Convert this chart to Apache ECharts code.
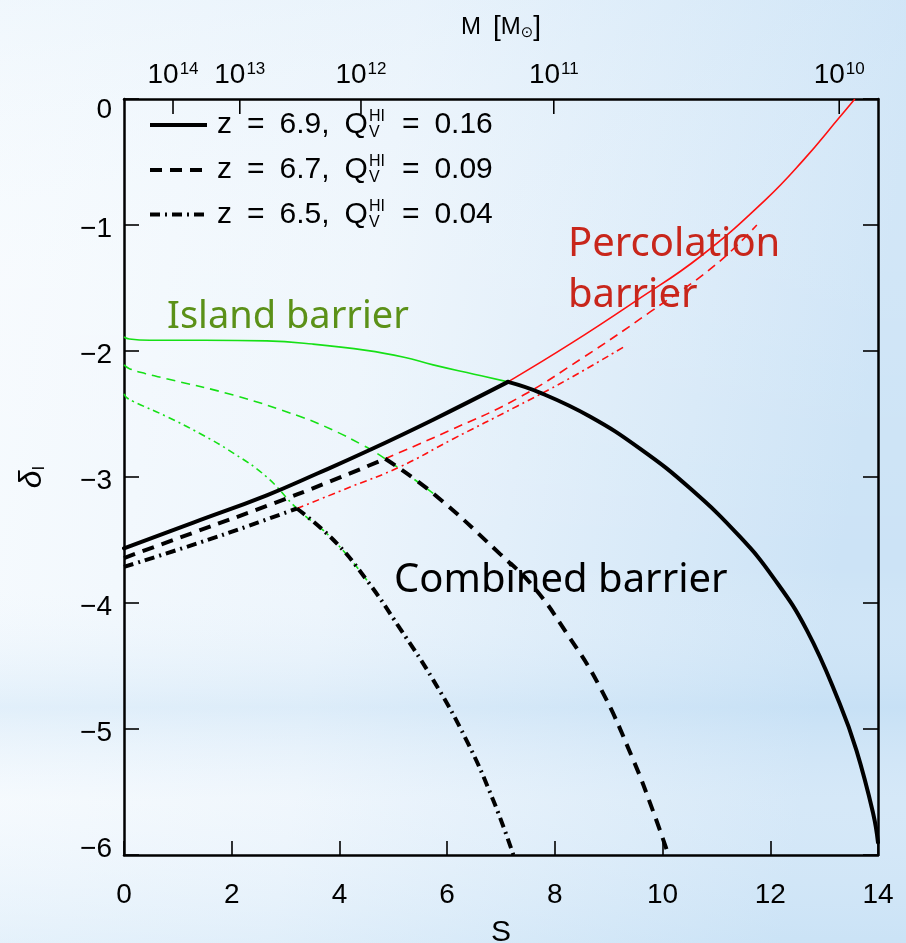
<!DOCTYPE html>
<html><head><meta charset="utf-8">
<script src="https://cdn.jsdelivr.net/npm/echarts@6/dist/echarts.min.js"></script>
<style>html,body{margin:0;padding:0;width:906px;height:943px;overflow:hidden}#c{width:906px;height:943px}</style>
</head><body><div id="c"></div><script>
// ---------------- data ----------------
const sTicks = [0, 2, 4, 6, 8, 10, 12, 14];
const deltaTicks = [0, -1, -2, -3, -4, -5, -6];
const massTickS = [0.91, 2.15, 4.40, 7.98, 13.28];
const massExp = ['14', '13', '12', '11', '10'];
const legendZ = ['6.9', '6.7', '6.5'];
const legendQ = ['0.16', '0.09', '0.04'];
const annotIsland = 'Island barrier';
const annotPerc = ['Percolation', 'barrier'];
const annotComb = 'Combined barrier';

// percolation barrier [S, delta]
const perc69 = [[0,-3.566],[1.3,-3.36],[2.65,-3.145],[3.6,-2.97],[4.51,-2.796],[5.74,-2.545],[7.13,-2.245],[8.3,-1.94],[9.52,-1.598],[10.69,-1.254],[11.9,-0.804],[12.61,-0.487],[13.29,-0.143],[13.57,0]];
const perc67 = [[0,-3.643],[1.3,-3.44],[2.65,-3.23],[3.8,-3.04],[4.85,-2.855],[6.05,-2.63],[7.29,-2.38],[8.53,-2.05],[9.77,-1.69],[11.0,-1.31],[11.75,-1.0]];
const perc65 = [[0,-3.714],[1.41,-3.52],[2.3,-3.39],[3.21,-3.25],[4.2,-3.08],[5.12,-2.92],[6.1,-2.70],[7.29,-2.44],[8.22,-2.23],[9.27,-1.97]];
// island barrier [S, delta]
const island69 = [[0,-1.889],[0.1,-1.905],[0.48,-1.915],[1.5,-1.915],[2.65,-1.92],[3.5,-1.945],[4.5,-1.995],[5.2,-2.05],[5.74,-2.11],[6.5,-2.184],[7.13,-2.245],[7.72,-2.33],[8.65,-2.52],[9.58,-2.775],[10.51,-3.09],[11.44,-3.476],[12.06,-3.80],[12.68,-4.217],[13.29,-4.80],[13.60,-5.17],[13.91,-5.67],[14,-5.90]];
const island67 = [[0,-2.11],[0.1,-2.14],[0.4,-2.18],[0.79,-2.22],[2.03,-2.35],[3.27,-2.52],[3.89,-2.63],[4.4,-2.74],[4.85,-2.855],[5.74,-3.13],[6.98,-3.61],[7.60,-3.87],[8.22,-4.24],[8.84,-4.67],[9.46,-5.25],[9.83,-5.66],[10.11,-6.0]];
const island65 = [[0,-2.34],[0.05,-2.37],[0.17,-2.40],[0.79,-2.52],[1.41,-2.655],[2.03,-2.81],[2.65,-3.0],[3.21,-3.25],[3.89,-3.50],[4.51,-3.82],[5.12,-4.20],[5.74,-4.61],[6.36,-5.09],[6.86,-5.57],[7.23,-6.0]];
// crossing points (combined barrier kink)
const kinks = [7.13, 4.85, 3.21];
// how far the green island curve is visible
const greenEnd = [7.13, 5.74, 4.51];

// ---------------- styles ----------------
const blackDash = [[], [12, 8], [10, 5, 2, 5]];
const thinDash = [[], [9, 6], [7, 4, 2, 4]];
const RED = '#ff1010', GREEN = '#16e016';
const FONT = 'Liberation Sans, Arial, sans-serif';
const SMOOTH = 0.45;

function seg(arr, a, b) { return arr.filter(p => p[0] >= a - 1e-9 && p[0] <= b + 1e-9); }

const percs = [perc69, perc67, perc65];
const islands = [island69, island67, island65];
const series = [];
for (let i = 0; i < 3; i++) {
  const k = kinks[i];
  const thin = (data, color) => ({
    type: 'line', data, symbol: 'none', smooth: SMOOTH, z: 2,
    xAxisIndex: 0, yAxisIndex: 0, silent: true,
    lineStyle: { color, width: 1.6, type: i === 0 ? 'solid' : thinDash[i] }
  });
  series.push(thin(seg(percs[i], k, 99), RED));
  series.push(thin(seg(islands[i], -1, greenEnd[i]), GREEN));
  const thick = (data) => ({
    type: 'line', data, symbol: 'none', smooth: SMOOTH, z: 5,
    xAxisIndex: 0, yAxisIndex: 0, silent: true,
    lineStyle: { color: '#000', width: 4, type: i === 0 ? 'solid' : blackDash[i], cap: i === 0 ? 'round' : 'butt' }
  });
  series.push(thick(seg(percs[i], -1, k)));
  series.push(thick(seg(islands[i], k, 99)));
}

// ---------------- legend (graphic) ----------------
const ctx = document.createElement('canvas').getContext('2d');
function tw(txt, size, fam) { ctx.font = size + 'px ' + (fam || FONT); return ctx.measureText(txt).width; }
const legendRows = [125, 170, 214.5];
const graphics = [];
// background
graphics.push({ type: 'rect', z: -100, silent: true, shape: { x: 0, y: 0, width: 906, height: 943 },
  style: { fill: new echarts.graphic.LinearGradient(0, 0, 1, 0.15, [
    { offset: 0, color: '#f7fbfe' }, { offset: 0.45, color: '#edf5fc' }, { offset: 1, color: '#cce3f6' }]) } });
graphics.push({ type: 'rect', z: -99, silent: true, shape: { x: 0, y: 0, width: 906, height: 943 },
  style: { fill: new echarts.graphic.LinearGradient(0, 0, 0, 1, [
    { offset: 0, color: 'rgba(220,236,249,0.25)' }, { offset: 0.3, color: 'rgba(255,255,255,0.1)' },
    { offset: 0.6, color: 'rgba(255,255,255,0)' }, { offset: 0.75, color: 'rgba(190,220,244,0.35)' },
    { offset: 0.85, color: 'rgba(250,252,255,0.2)' }, { offset: 1, color: 'rgba(200,226,246,0.35)' }]) } });

for (let i = 0; i < 3; i++) {
  const y = legendRows[i];
  graphics.push({ type: 'line', z: 10, silent: true, shape: { x1: 150, y1: y, x2: 207, y2: y },
    style: { stroke: '#000', lineWidth: 4, lineDash: i === 0 ? null : blackDash[i] } });
  const t1 = 'z\u2002=\u2002' + legendZ[i] + ',\u2002Q';
  const x0 = 217;
  const w1 = tw(t1, 30);
  graphics.push({ type: 'text', z: 10, silent: true, x: x0, y: y, style: { text: t1, font: '30px ' + FONT, fill: '#000', verticalAlign: 'middle' } });
  const xs = x0 + w1 + 1;
  graphics.push({ type: 'text', z: 10, silent: true, x: xs, y: y - 8, style: { text: 'HI', font: '16px ' + FONT, fill: '#000', verticalAlign: 'middle' } });
  const w2 = Math.max(tw('HI', 16), tw('V', 16));
  graphics.push({ type: 'text', z: 10, silent: true, x: xs, y: y + 8, style: { text: 'V', font: '16px ' + FONT, fill: '#000', verticalAlign: 'middle' } });
  graphics.push({ type: 'text', z: 10, silent: true, x: xs + w2 + 2, y: y, style: { text: '\u2002=\u2002' + legendQ[i], font: '30px ' + FONT, fill: '#000', verticalAlign: 'middle' } });
}
// annotations
const AF = 'Noto Sans, Open Sans, sans-serif';
graphics.push({ type: 'text', z: 10, silent: true, x: 167, y: 336, style: { text: annotIsland, font: '38px ' + AF, fill: '#5b9118', verticalAlign: 'bottom' } });
graphics.push({ type: 'text', z: 10, silent: true, x: 568, y: 265, style: { text: annotPerc[0], font: '40px ' + AF, fill: '#c8261b', verticalAlign: 'bottom' } });
graphics.push({ type: 'text', z: 10, silent: true, x: 568, y: 316, style: { text: annotPerc[1], font: '40px ' + AF, fill: '#c8261b', verticalAlign: 'bottom' } });
graphics.push({ type: 'text', z: 10, silent: true, x: 394, y: 601, style: { text: annotComb, font: '40px ' + AF, fill: '#000', verticalAlign: 'bottom' } });

const axisLineStyle = { color: '#000', width: 2.5 };
const tickStyle = { color: '#000', width: 1.6 };

const option = {
  animation: false,
  grid: { left: 124, right: 28, top: 99, bottom: 88, containLabel: false, outerBoundsMode: 'none' },
  xAxis: [
    { type: 'value', position: 'bottom', min: sTicks[0], max: sTicks[sTicks.length - 1], interval: 2,
      axisLine: { show: true, onZero: false, lineStyle: axisLineStyle }, splitLine: { show: false },
      axisTick: { show: true, inside: true, length: 14, lineStyle: tickStyle },
      axisLabel: { margin: 26, fontSize: 28, fontFamily: FONT, color: '#000' },
      name: 'S', nameLocation: 'middle', nameGap: 63, nameTextStyle: { fontSize: 30, fontFamily: FONT, color: '#000' } },
    { type: 'value', position: 'top', min: sTicks[0], max: sTicks[sTicks.length - 1],
      axisLine: { show: true, onZero: false, lineStyle: axisLineStyle }, splitLine: { show: false },
      axisTick: { show: false },
      axisLabel: { show: true, margin: 10, customValues: massTickS,
        formatter: v => { const i = massTickS.findIndex(m => Math.abs(m - v) < 1e-6); return i < 0 ? '' : '{b|10}{s|' + massExp[i] + '}'; },
        rich: { b: { fontSize: 28, fontFamily: FONT, color: '#000' }, s: { fontSize: 17, fontFamily: FONT, color: '#000', verticalAlign: 'top', padding: [0, 0, 0, 1] } } },
      name: '{m|M\u2002}{br|[}{m|M}{o|\u2299}{br|]}', nameLocation: 'middle', nameGap: 58,
      nameTextStyle: { rich: { m: { fontSize: 24, fontFamily: FONT, color: '#000' }, br: { fontSize: 28, fontFamily: FONT, color: '#000' }, o: { fontSize: 15, fontFamily: 'DejaVu Sans', color: '#000', verticalAlign: 'bottom' } } } }
  ],
  yAxis: [
    { type: 'value', position: 'left', min: deltaTicks[deltaTicks.length - 1], max: deltaTicks[0], interval: 1,
      axisLine: { show: true, onZero: false, lineStyle: axisLineStyle }, splitLine: { show: false },
      axisTick: { show: true, inside: true, length: 15, lineStyle: tickStyle },
      axisLabel: { margin: 12, color: '#000',
        formatter: v => { const t = String(v).replace('-', '\u2212'); if (v === 0) return '{z|' + t + '}'; if (v === -6) return '{u|' + t + '}'; return '{n|' + t + '}'; },
        rich: { n: { fontSize: 28, fontFamily: FONT, padding: [8, 0, 0, 0] }, z: { fontSize: 28, fontFamily: FONT, padding: [22, 0, 0, 0] }, u: { fontSize: 28, fontFamily: FONT, padding: [0, 0, 12, 0] } } },
      name: '{d|\u03b4}{s|I}', nameLocation: 'middle', nameGap: 76, nameRotate: 90,
      nameTextStyle: { rich: { d: { fontSize: 32, fontFamily: FONT, fontStyle: 'italic', color: '#000' }, s: { fontSize: 17, fontFamily: FONT, color: '#000', verticalAlign: 'bottom' } } } },
    { type: 'value', position: 'right', min: deltaTicks[deltaTicks.length - 1], max: deltaTicks[0], interval: 1,
      axisLine: { show: true, onZero: false, lineStyle: axisLineStyle }, splitLine: { show: false },
      axisTick: { show: true, inside: true, length: 15, lineStyle: tickStyle },
      axisLabel: { show: false } }
  ],
  graphic: graphics,
  series: series
};
const chart = echarts.init(document.getElementById('c'), null, { renderer: 'canvas' });
chart.setOption(option);

// top (mass) axis ticks: positioned through the top axis' own scale
const yTop = chart.convertToPixel({ yAxisIndex: 0 }, deltaTicks[0]);
massTickS.forEach(m => {
  const x = chart.convertToPixel({ xAxisIndex: 1 }, m);
  graphics.push({ type: 'line', z: 20, silent: true, shape: { x1: x, y1: yTop, x2: x, y2: yTop + 15 },
    style: { stroke: '#000', lineWidth: 1.6 } });
});
chart.setOption({ graphic: graphics });
</script></body></html>
